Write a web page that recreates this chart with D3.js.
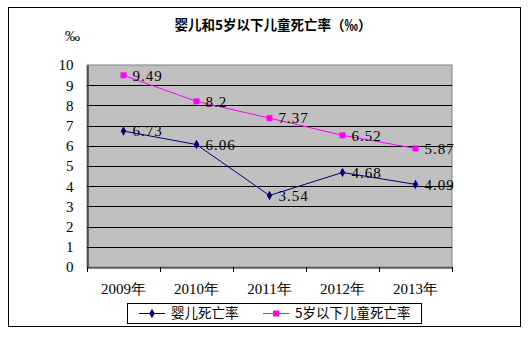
<!DOCTYPE html>
<html><head><meta charset="utf-8">
<script src="https://cdn.jsdelivr.net/npm/d3@7/dist/d3.min.js"></script>
<style>body{margin:0;background:#fff}svg{display:block}</style>
</head><body>
<svg id="c" width="530" height="338"></svg>
<script>
const categories = ["2009年","2010年","2011年","2012年","2013年"];
const infantRate = [6.73, 6.06, 3.54, 4.68, 4.09];
const under5Rate = [9.49, 8.2, 7.37, 6.52, 5.87];
const seriesNames = ["婴儿死亡率","5岁以下儿童死亡率"];
const yTicks = [0,1,2,3,4,5,6,7,8,9,10];
const title = "婴儿和5岁以下儿童死亡率（‰）";
const unitLabel = "‰";

const svg = d3.select("#c");
const serif = "'Liberation Serif','DejaVu Serif',serif";
const cjk = "'Noto Sans CJK SC',sans-serif";

svg.append("rect").attr("x",8.5).attr("y",7.5).attr("width",512).attr("height",319)
  .attr("fill","#fff").attr("stroke","#000").attr("stroke-width",1);

const L=87, R=452, T=65, B=267;
const x = d3.scaleBand().domain(categories).range([L,R]);
const y = d3.scaleLinear().domain([0,10]).range([B,T]);

svg.append("rect").attr("x",L).attr("y",T).attr("width",R-L).attr("height",B-T)
  .attr("fill","#c0c0c0").attr("stroke","#808080");

svg.append("g").selectAll("line").data(yTicks.filter(d=>d>0&&d<10)).join("line")
  .attr("x1",L).attr("x2",R).attr("y1",d=>Math.round(y(d))+0.5).attr("y2",d=>Math.round(y(d))+0.5)
  .attr("stroke","#000");

// y axis
const ya = svg.append("g").attr("transform",`translate(${L+0.5},0)`)
  .call(d3.axisLeft(y).tickValues(yTicks).tickSize(0).tickPadding(14).tickFormat(d3.format("d")));
ya.select(".domain").attr("stroke","#000");
ya.selectAll("text").attr("font-family",serif).attr("font-size",15).attr("fill","#000");

// x axis
const xa = svg.append("g").attr("transform",`translate(0,${B+0.5})`)
  .call(d3.axisBottom(x).tickSize(0).tickPadding(16));
xa.select(".domain").attr("stroke","#000");
xa.selectAll("text").attr("font-family",serif).attr("font-size",15).attr("fill","#000");
const bounds = categories.map(c=>x(c)).concat([R]);
svg.append("g").selectAll("line").data(bounds).join("line")
  .attr("x1",d=>Math.round(d)+0.5).attr("x2",d=>Math.round(d)+0.5)
  .attr("y1",B).attr("y2",B+5).attr("stroke","#000");

const cx = c => x(c)+x.bandwidth()/2;
const line = d3.line().x((d,i)=>cx(categories[i])).y(d=>y(d));

function drawSeries(vals, color, shape){
  svg.append("path").datum(vals).attr("d",line).attr("fill","none").attr("stroke",color).attr("stroke-width",1);
  const g = svg.append("g");
  vals.forEach((v,i)=>{
    const px=cx(categories[i]), py=y(v);
    if(shape==="square"){
      g.append("rect").attr("x",px-3).attr("y",py-3).attr("width",6).attr("height",6).attr("fill",color);
    } else {
      g.append("path").attr("d",d3.symbol(d3.symbolDiamond,26)()).attr("transform",`translate(${px},${py})`).attr("fill",color);
    }
    g.append("text").attr("x",px+9).attr("y",py).attr("dy","0.35em")
      .attr("font-family",serif).attr("font-size",15).attr("letter-spacing","1px").attr("fill","#000").text(v);
  });
}
drawSeries(infantRate,"#000080","diamond");
drawSeries(under5Rate,"#ff00ff","square");

svg.append("text").attr("x",273).attr("y",30).attr("text-anchor","middle")
  .attr("font-family",cjk).attr("font-weight","bold").attr("font-size",13.5).text(title);
svg.append("text").attr("x",65).attr("y",41).attr("font-family",serif).attr("font-size",15).text(unitLabel);

// legend
const lg = svg.append("g");
lg.append("rect").attr("x",127.5).attr("y",303.5).attr("width",294).attr("height",20).attr("fill","#fff").attr("stroke","#000");
const items=[{x:139,c:"#000080",s:"diamond",t:seriesNames[0]},{x:263,c:"#ff00ff",s:"square",t:seriesNames[1]}];
items.forEach(it=>{
  const ly=313.5;
  lg.append("line").attr("x1",it.x).attr("x2",it.x+26).attr("y1",ly).attr("y2",ly).attr("stroke",it.c);
  if(it.s==="square") lg.append("rect").attr("x",it.x+10).attr("y",ly-3).attr("width",6).attr("height",6).attr("fill",it.c);
  else lg.append("path").attr("d",d3.symbol(d3.symbolDiamond,26)()).attr("transform",`translate(${it.x+13},${ly})`).attr("fill",it.c);
  lg.append("text").attr("x",it.x+32).attr("y",ly).attr("dy","0.36em").attr("font-family",cjk).attr("font-size",13.5).text(it.t);
});
</script>
</body></html>
